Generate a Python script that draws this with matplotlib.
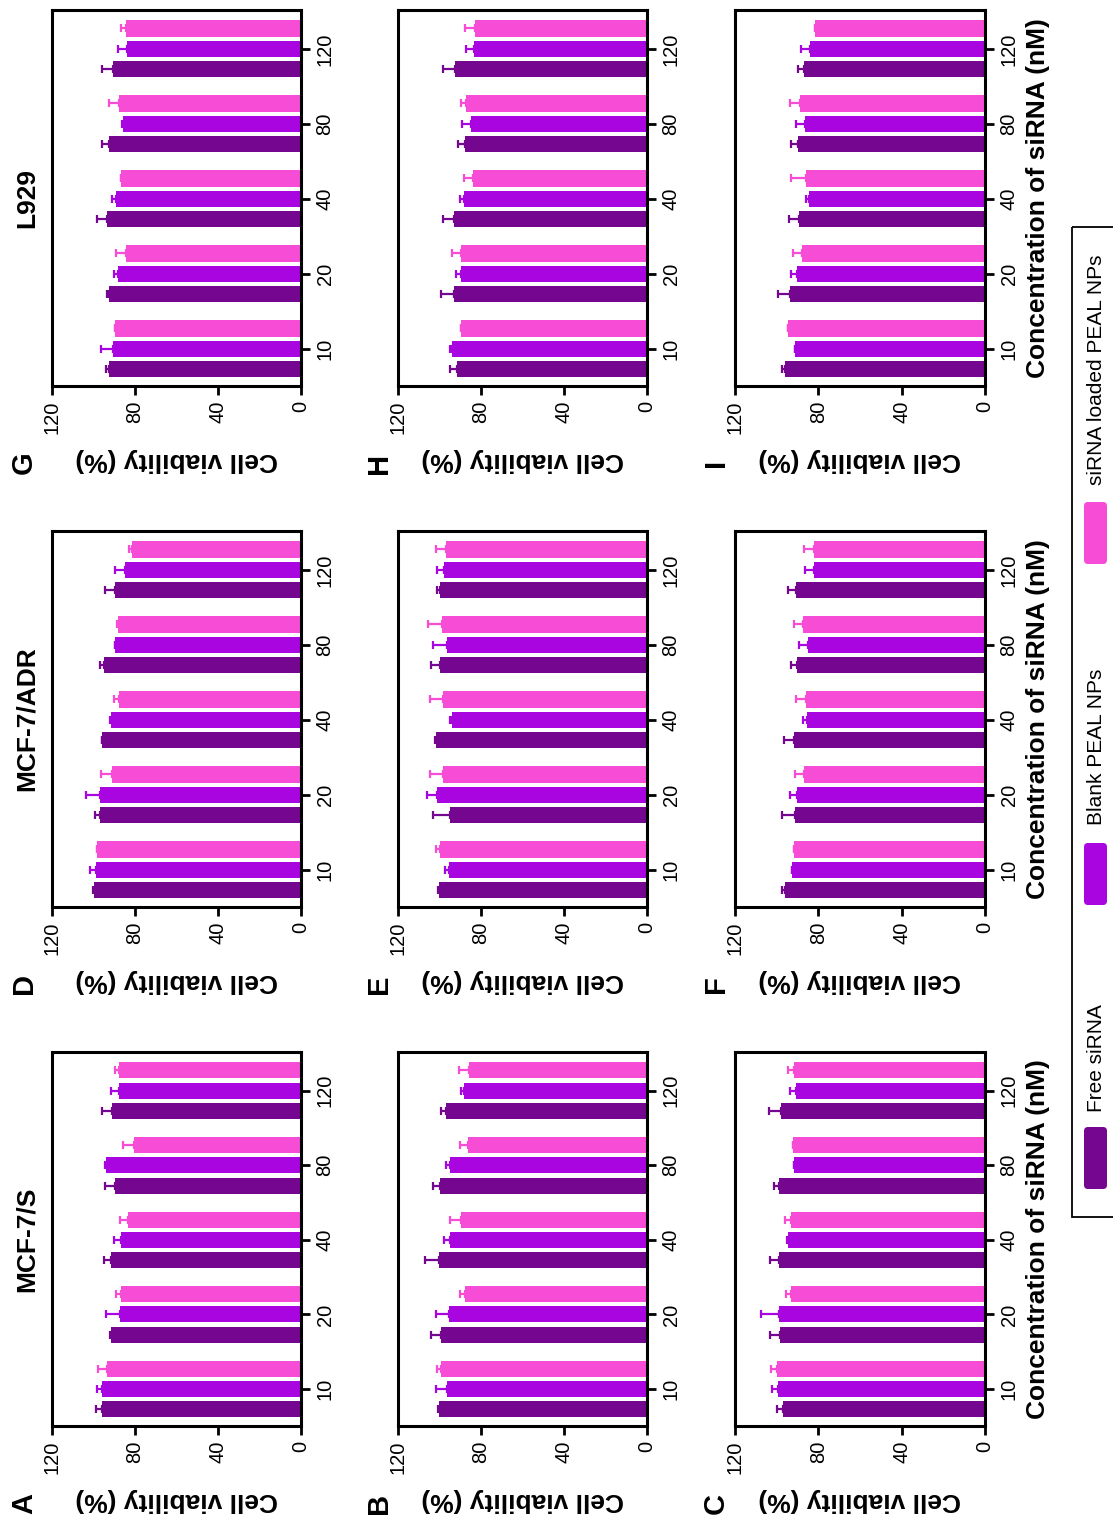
import numpy as np
import matplotlib.pyplot as plt
from matplotlib.patches import Rectangle, FancyBboxPatch

plt.rcParams['font.family'] = ['Liberation Sans', 'DejaVu Sans']

W, H = 1113, 1522

conc_labels = ['10', '20', '40', '80', '120']
series_names = ['Free siRNA', 'Blank PEAL NPs', 'siRNA loaded PEAL NPs']
colors = ['#74068F', '#A905E0', '#F74DD6']
cell_lines = ['MCF-7/S', 'MCF-7/ADR', 'L929']

# mean viability (%) per panel: rows = free, blank, loaded; cols = concentrations
A_mean = [[95.7, 91.7, 91.4, 89.5, 90.9],
          [95.7, 87.4, 86.9, 93.8, 87.9],
          [93.3, 86.9, 83.3, 80.5, 87.7]]
A_err = [[3.0, 0.5, 3.5, 5.1, 4.8],
         [2.4, 6.4, 3.2, 0.5, 3.9],
         [4.5, 2.4, 3.7, 5.3, 2.1]]

B_mean = [[100.2, 99.1, 100.4, 99.9, 97.1],
          [96.3, 95.4, 94.7, 94.7, 88.1],
          [99.1, 87.8, 89.7, 86.5, 85.7]]
B_err = [[0.5, 4.8, 6.7, 3.2, 2.0],
         [5.5, 6.4, 3.2, 2.3, 1.3],
         [2.1, 2.1, 5.3, 3.7, 4.8]]

C_mean = [[96.8, 98.4, 98.7, 98.7, 97.9],
          [99.5, 98.7, 94.4, 91.7, 90.9],
          [100.0, 93.1, 93.3, 92.3, 91.5]]
C_err = [[3.2, 4.8, 4.5, 2.6, 5.8],
         [2.9, 8.8, 0.5, 0.0, 2.7],
         [2.9, 2.4, 2.7, 0.0, 3.2]]

D_mean = [[99.8, 97.0, 95.7, 94.9, 89.8],
          [99.0, 97.0, 91.4, 89.5, 84.6],
          [98.3, 90.9, 87.7, 88.2, 81.4]]
D_err = [[0.5, 2.1, 0.0, 2.1, 4.8],
         [2.6, 6.4, 0.5, 0.0, 4.8],
         [0.0, 5.3, 2.4, 0.5, 1.6]]

E_mean = [[100.2, 94.7, 101.8, 99.9, 99.6],
          [95.4, 101.0, 94.2, 96.3, 97.9],
          [99.9, 98.3, 98.3, 98.8, 97.0]]
E_err = [[0.5, 8.4, 0.5, 4.3, 1.6],
         [2.1, 4.8, 0.5, 6.8, 3.1],
         [1.9, 6.1, 6.1, 6.7, 4.5]]

F_mean = [[96.0, 91.2, 91.7, 90.1, 90.9],
          [92.8, 90.4, 85.6, 84.8, 81.9],
          [91.7, 86.9, 86.1, 87.2, 82.1]]
F_err = [[1.3, 6.4, 4.6, 3.2, 3.5],
         [0.0, 3.2, 1.6, 4.3, 4.5],
         [0.0, 4.3, 4.6, 4.3, 4.8]]

G_mean = [[92.6, 92.6, 93.5, 92.6, 90.6],
          [90.6, 88.2, 89.3, 85.8, 83.7],
          [89.8, 84.5, 86.6, 87.7, 84.2]]
G_err = [[1.6, 1.0, 4.7, 3.4, 5.3],
         [5.6, 1.9, 1.6, 0.3, 4.5],
         [0.0, 4.5, 0.0, 4.8, 2.4]]

H_mean = [[91.8, 93.0, 93.1, 87.5, 92.6],
          [94.2, 89.4, 88.3, 84.6, 83.4],
          [89.7, 89.7, 83.8, 87.0, 83.0]]
H_err = [[3.2, 6.4, 5.2, 3.5, 5.7],
         [0.5, 2.7, 1.9, 4.5, 3.6],
         [0.0, 4.5, 4.3, 2.7, 4.8]]

I_mean = [[95.9, 93.5, 89.5, 89.8, 86.8],
          [91.4, 90.3, 84.7, 86.6, 83.9],
          [94.8, 87.9, 86.0, 89.0, 81.5]]
I_err = [[1.5, 6.0, 4.5, 3.2, 3.2],
         [0.0, 2.9, 1.3, 4.2, 4.5],
         [0.0, 4.3, 7.2, 4.5, 0.0]]

panels = {'A': (A_mean, A_err), 'B': (B_mean, B_err), 'C': (C_mean, C_err),
          'D': (D_mean, D_err), 'E': (E_mean, E_err), 'F': (F_mean, F_err),
          'G': (G_mean, G_err), 'H': (H_mean, H_err), 'I': (I_mean, I_err)}

# layout in pixels (figure is drawn already turned on its side)
cols = [(52, 301), (398, 647), (735, 985)]
rows = [(10, 386), (531, 907), (1052, 1426)]
grid = [['G', 'H', 'I'], ['D', 'E', 'F'], ['A', 'B', 'C']]
row_line = [2, 1, 0]
letter_x = [24, 379, 716]

fig = plt.figure(figsize=(W / 100, H / 100), dpi=100)
over = fig.add_axes([0, 0, 1, 1])
over.set_xlim(0, W)
over.set_ylim(H, 0)
over.axis('off')

pos = np.arange(len(conc_labels))
offs = [-0.272, 0.0, 0.272]
bh = 0.215

for r, (y0, y1) in enumerate(rows):
    for c, (x0, x1) in enumerate(cols):
        key = grid[r][c]
        mean, err = panels[key]
        ax = fig.add_axes([x0 / W, 1 - y1 / H, (x1 - x0) / W, (y1 - y0) / H])
        for s in range(3):
            m = np.array(mean[s])
            e = np.array(err[s])
            ax.barh(pos + offs[s], m, height=bh, color=colors[s], zorder=2)
            ax.errorbar(m, pos + offs[s], xerr=[np.zeros_like(e), e], fmt='none',
                        ecolor=colors[s], elinewidth=1.6, capsize=3, capthick=1.6, zorder=3)
        ax.set_xlim(120, 0)
        ax.set_ylim(-0.495, 4.518)
        ax.set_xticks([0, 40, 80, 120])
        ax.set_xticklabels(['0', '40', '80', '120'], rotation=90)
        ax.yaxis.tick_right()
        ax.set_yticks(pos)
        ax.set_yticklabels(conc_labels, rotation=90, va='center')
        ax.tick_params(direction='out', length=6.5, width=2, labelsize=14.5, pad=4)
        for sp in ax.spines.values():
            sp.set_linewidth(2.2)

        cx = (x0 + x1) / 2
        cy = (y0 + y1) / 2
        over.text(cx, y1 + 74, 'Cell viability (%)', rotation=180, ha='center', va='center',
                  fontsize=19, fontweight='bold')
        over.text(letter_x[c], y1 + 77, key, rotation=90, ha='center', va='center',
                  fontsize=21, fontweight='bold')
        if c == 0:
            over.text(27, cy, cell_lines[row_line[r]], rotation=90, ha='center', va='center',
                      fontsize=19, fontweight='bold')
        if c == 2:
            over.text(1038, cy, 'Concentration of siRNA (nM)', rotation=90, ha='center',
                      va='center', fontsize=19, fontweight='bold')

# legend
over.add_patch(Rectangle((1072, 227), 60, 990, fill=False, edgecolor='black', linewidth=1.3))
patch_top = [1127, 843, 502]
text_start = [1112, 825, 485]
for s in range(3):
    over.add_patch(FancyBboxPatch((1084, patch_top[s]), 23, 62,
                                  boxstyle='round,pad=0,rounding_size=4',
                                  facecolor=colors[s], edgecolor='none'))
    over.text(1096, text_start[s], series_names[s], rotation=90, ha='center', va='bottom',
              fontsize=15)

fig.savefig('out.png', dpi=100)
